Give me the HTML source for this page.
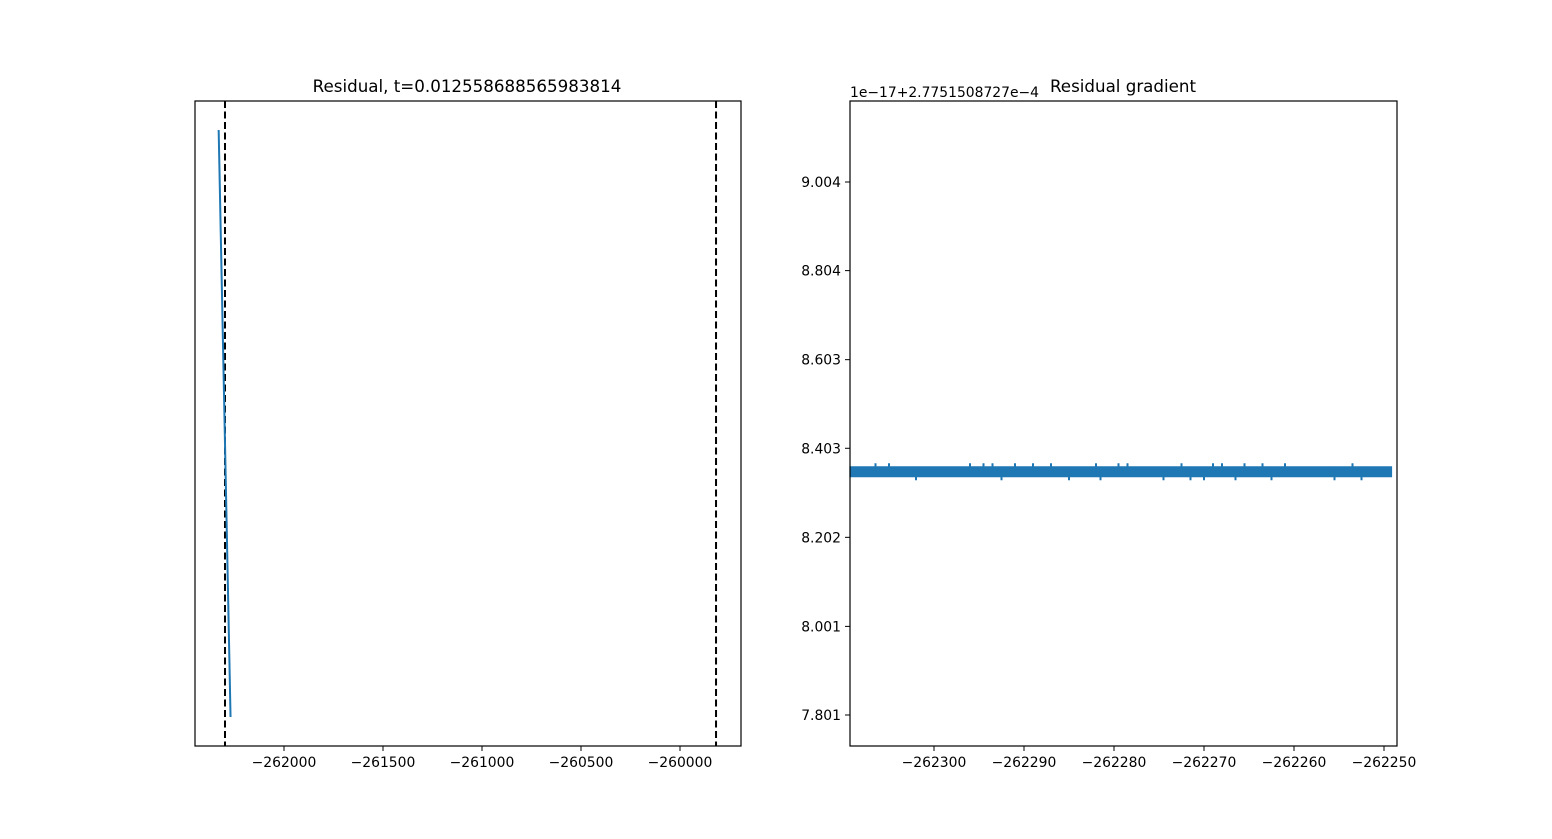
<!DOCTYPE html>
<html><head><meta charset="utf-8"><style>
body{margin:0;background:#fff}
svg{display:block;font-family:"DejaVu Sans","Liberation Sans",sans-serif}
</style></head><body>
<svg id="fig" width="1552" height="839">
<rect width="1552" height="839" fill="#fff"/>
<g id="left"></g>
<g id="right"></g>
</svg>
<script>
// Left panel data
const leftXTicks = [-262000, -261500, -261000, -260500, -260000];
const leftLineX = [-262330, -262270];
const leftLineY = [1.0, 0.0];
const leftVLines = [-262298, -259818];
// Right panel data
const rightXTicks = [-262300, -262290, -262280, -262270, -262260, -262250];
const rightYTicks = [7.801, 8.001, 8.202, 8.403, 8.603, 8.804, 9.004];
const bandX = [-262309.4, -262249.1];
const bandY = [8.35, 8.35];
const spikeX = [-262306.5,-262305,-262302,-262296,-262294.5,-262293.5,-262292.5,-262291,-262289,-262287,-262285,-262282,-262281.5,-262279.5,-262278.5,-262274.5,-262272.5,-262271.5,-262270,-262269,-262268,-262266.5,-262265.5,-262263.5,-262262.5,-262261,-262255.5,-262253.5,-262252.5];
const spikeDir = [1,1,-1,1,1,1,-1,1,1,1,-1,1,-1,1,1,-1,1,-1,-1,1,1,-1,1,1,-1,1,-1,1,-1];

const NS="http://www.w3.org/2000/svg";
function mk(p,tag,attrs){const e=document.createElementNS(NS,tag);for(const k in attrs)e.setAttribute(k,attrs[k]);p.appendChild(e);return e;}
const fmt=v=>String(v).replace('-','\u2212');

// LEFT
const L=document.getElementById('left');
const lx0=195,lx1=741,ly0=101,ly1=746;
const lxs=v=>284+(v+262000)*0.198;
const lys=v=>717+(130-717)*v;
leftVLines.forEach(v=>{
  const l=mk(L,'line',{x1:lxs(v),x2:lxs(v),y1:ly0,y2:ly1,stroke:'#000','stroke-width':2,'stroke-dasharray':'7,3.5'});
  
  
});
const lp=mk(L,'polyline',{points:leftLineX.map((x,i)=>lxs(x)+','+lys(leftLineY[i])).join(' '),fill:'none',stroke:'#1f77b4','stroke-width':2});


const lf=mk(L,'rect',{x:lx0,y:ly0,width:lx1-lx0,height:ly1-ly0,fill:'none',stroke:'#000','stroke-width':1.2});


leftXTicks.forEach(v=>{
  const x=lxs(v);
  mk(L,'line',{x1:x,x2:x,y1:ly1,y2:ly1+5,stroke:'#000','stroke-width':1});
  const t=mk(L,'text',{x:x,y:ly1+21,'text-anchor':'middle','font-size':'13.9'});t.textContent=fmt(v);
  
  
});
const lt=mk(L,'text',{x:467,y:92,'text-anchor':'middle','font-size':'16.7'});lt.textContent='Residual, t=0.012558688565983814';



// RIGHT
const R=document.getElementById('right');
const rx0=850,rx1=1397,ry0=101,ry1=746;
const rxs=v=>934+(v+262300)*9;
const rys=v=>182+(9.004-v)*(715-182)/(9.004-7.801);
const band=mk(R,'polyline',{points:bandX.map((x,i)=>rxs(x)+','+rys(bandY[i])).join(' '),fill:'none',stroke:'#1f77b4','stroke-width':11});


spikeX.forEach((v,i)=>{
  const y=rys(bandY[0]);const d=spikeDir[i];
  const s=mk(R,'line',{x1:rxs(v),x2:rxs(v),y1:y,y2:y-d*8.5,stroke:'#1f77b4','stroke-width':2});
  
  
});
const rf=mk(R,'rect',{x:rx0,y:ry0,width:rx1-rx0,height:ry1-ry0,fill:'none',stroke:'#000','stroke-width':1.2});


rightXTicks.forEach(v=>{
  const x=rxs(v);
  mk(R,'line',{x1:x,x2:x,y1:ry1,y2:ry1+5,stroke:'#000','stroke-width':1});
  const t=mk(R,'text',{x:x,y:ry1+21,'text-anchor':'middle','font-size':'13.9'});t.textContent=fmt(v);
  
  
});
rightYTicks.forEach(v=>{
  const y=rys(v);
  mk(R,'line',{x1:rx0-5,x2:rx0,y1:y,y2:y,stroke:'#000','stroke-width':1});
  const t=mk(R,'text',{x:rx0-9,y:y+5,'text-anchor':'end','font-size':'13.9'});t.textContent=v.toFixed(3);
  
  
});
const off=mk(R,'text',{x:850,y:97,'font-size':'13.9'});off.textContent='1e\u221217+2.7751508727e\u22124';


const rt=mk(R,'text',{x:1123,y:92,'text-anchor':'middle','font-size':'16.7'});rt.textContent='Residual gradient';


</script>
</body></html>
